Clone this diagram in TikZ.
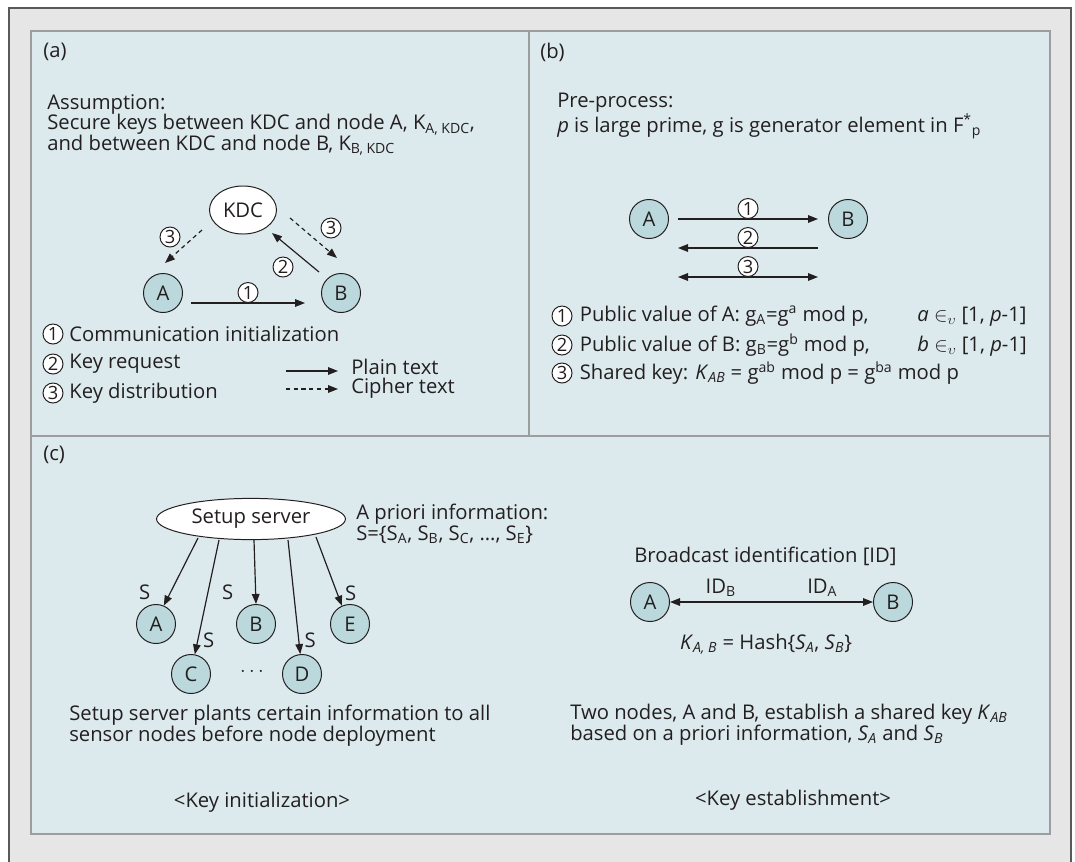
\documentclass[tikz,border=0pt]{standalone}
\usepackage{fontspec}
\setmainfont{Open Sans}
\usetikzlibrary{arrows.meta,positioning,shapes.geometric}
\definecolor{kdOuter}{HTML}{E6E6E7}
\definecolor{kdFrame}{HTML}{58595B}
\definecolor{kdPanel}{HTML}{DCEAEE}
\definecolor{kdEdge}{HTML}{9B9D9F}
\definecolor{kdNode}{HTML}{BBD9DC}
\definecolor{kdInk}{HTML}{231F20}
\newcommand{\isub}[2]{\textit{#1}\textsubscript{\textit{#2}}}

\begin{document}
\begin{tikzpicture}[x=0.025cm, y=-0.025cm,
  font=\fontsize{14.4}{14.8}\selectfont, text=kdInk, >={Triangle[length=2.5mm,width=1.9mm]},
  panel/.style={fill=kdPanel, draw=kdEdge, line width=1.3pt},
  sn/.style={circle, draw=kdInk, fill=kdNode, minimum size=0.975cm, inner sep=0pt, line width=0.7pt},
  srv/.style={ellipse, draw=kdInk, fill=white, inner sep=0pt, line width=0.7pt},
  num/.style={circle, draw=kdInk, fill=white, solid, minimum size=0.5cm, inner sep=0pt, line width=0.7pt,
              font=\fontsize{13}{13}\selectfont},
  plain/.style={->, line width=0.85pt, draw=kdInk},
  cipher/.style={->, line width=0.85pt, draw=kdInk, dash pattern=on 3pt off 2.5pt},
  both/.style={<->, line width=0.85pt, draw=kdInk},
  txt/.style={anchor=west, align=left, inner sep=0pt},
  tag/.style={anchor=west, inner sep=0pt},
]
\useasboundingbox (0,0) rectangle (1075,861);
\clip (0,0) rectangle (1075,861);
% frame and the three panels
\fill[white] (0,0) rectangle (1075,861);
\draw[fill=kdOuter, draw=kdFrame, line width=1.3pt] (9,8) rectangle (1071,900);
\draw[panel] (31,31) rectangle (529,436);
\draw[panel] (529,31) rectangle (1050,436);
\draw[panel] (31,436) rectangle (1050,834);
\node[tag] (ta) at (43,52) {(a)};
\node[tag] (tb) at (540,52) {(b)};
\node[tag] (tc) at (43,455) {(c)};

% (a) KDC
\node[txt] (assume) at (47,125) {Assumption:\\Secure keys between KDC and node A, K\textsubscript{A, KDC},\\and between KDC and node B, K\textsubscript{B, KDC}};
\node[srv, minimum width=1.675cm, minimum height=1.2cm] (kdc) at (243,210) {KDC};
\node[sn] (a) at (163,293) {A};
\node[sn] (b) at (341,293) {B};
\draw[plain] ([shift={(28,10)}]a.center) -- node[num, above=0pt]{1} ([shift={(-36,10)}]b.center);
\draw[plain] ([shift={(-22,-21)}]b.center) -- node[num, shift={(-12.5,14.5)}]{2} ([shift={(29,23)}]kdc.center);
\draw[cipher] ([shift={(-41,20)}]kdc.center) -- node[num, shift={(-13.5,-9.5)}]{3} ([shift={(2,-30)}]a.center);
\draw[cipher] ([shift={(47,8)}]kdc.center) -- node[num, shift={(17.5,-10)}]{3} ([shift={(-4,-35)}]b.center);
% legend
\node[num] (l1) at (53,334) {1};
\node[num] (l2) at (53,364) {2};
\node[num] (l3) at (53,393) {3};
\node[tag, right=4pt of l1] (l1t) {Communication initialization};
\node[tag, right=4pt of l2] (l2t) {Key request};
\node[tag, right=4pt of l3] (l3t) {Key distribution};
\node[txt, font=\fontsize{14.4}{13.2}\selectfont] (ptct) at (351,379) {Plain text\\Cipher text};
\draw[plain] ([shift={(-65,-8)}]ptct.west) -- ([shift={(-13,-8)}]ptct.west);
\draw[cipher] ([shift={(-65,10)}]ptct.west) -- ([shift={(-13,10)}]ptct.west);

% (b) Diffie-Hellman
\node[txt] (pre) at (557,116) {Pre-process:\\\textit{p} is large prime, g is generator element in F\textsuperscript{*}\textsubscript{p}};
\node[sn] (a2) at (649,219) {A};
\node[sn] (b2) at (848,219) {B};
\draw[plain] ([shift={(29,0)}]a2.center) -- node[num, above=0pt]{1} ([shift={(-30,0)}]b2.center);
\draw[plain] ([shift={(-30,29)}]b2.center) -- node[num, above=0pt]{2} ([shift={(29,29)}]a2.center);
\draw[both] ([shift={(29,58)}]a2.center) -- node[num, above=0pt]{3} ([shift={(-30,58)}]b2.center);
\coordinate (rc) at (917,0);
\node[num] (m1) at (562,316) {1};
\node[num] (m2) at (562,345) {2};
\node[num] (m3) at (562,373) {3};
\node[tag, right=5pt of m1] (m1t) {Public value of A: g\textsubscript{A}=g\textsuperscript{a} mod p,};
\node[tag, right=5pt of m2] (m2t) {Public value of B: g\textsubscript{B}=g\textsuperscript{b} mod p,};
\node[tag, right=5pt of m3] (m3t) {Shared key: \isub{K}{AB} = g\textsuperscript{ab} mod p = g\textsuperscript{ba} mod p};
\node[anchor=base west, inner sep=0pt] (m1r) at (rc |- m1t.base) {\textit{a} $\in_{\upsilon}$ [1, \textit{p}-1]};
\node[anchor=base west, inner sep=0pt] (m2r) at (rc |- m2t.base) {\textit{b} $\in_{\upsilon}$ [1, \textit{p}-1]};

% (c) key initialization
\node[srv, minimum width=4.72cm, minimum height=1.03cm] (setup) at (251,519) {Setup server};
\node[txt, font=\fontsize{14.4}{12.2}\selectfont] (prior) at (356,524) {A priori information:\\S=\{S\textsubscript{A}, S\textsubscript{B}, S\textsubscript{C}, \dots, S\textsubscript{E}\}};
\node[sn] (ca) at (156,624) {A};
\node[sn] (cb) at (256,624) {B};
\node[sn] (ce) at (350,624) {E};
\node[sn] (cc) at (191,674) {C};
\node[sn] (cd) at (302,674) {D};
\node (dots) at (252,672) {$\cdots$};
\draw[plain] ([shift={(-53,19)}]setup.center) -- node[pos=0.8, shift={(-26,0)}]{S} (ca.67);
\draw[plain] ([shift={(-32,21)}]setup.center) -- node[pos=0.88, shift={(11,0)}]{S} (cc.79);
\draw[plain] ([shift={(3,21)}]setup.center) -- node[pos=0.81, shift={(-28,0)}]{S} (cb.90);
\draw[plain] ([shift={(37,21)}]setup.center) -- node[pos=0.876, shift={(11.5,0)}]{S} (cd.95);
\draw[plain] ([shift={(65,18)}]setup.center) -- node[pos=0.82, shift={(13.5,0)}]{S} (ce.114);
\node[txt] (plant) at (69,726) {Setup server plants certain information to all\\sensor nodes before node deployment};
\node (kinit) at (262,802) {<Key initialization>};

% (c) key establishment
\node[tag] (bcast) at (634,556) {Broadcast identification [ID]};
\node[sn] (a3) at (650,602) {A};
\node[sn] (b3) at (893,602) {B};
\draw[both] (a3) -- node[pos=0.25, above]{ID\textsubscript{B}} node[pos=0.75, above]{ID\textsubscript{A}} (b3);
\node (hash) at (766,644) {\isub{K}{A, B} = Hash\{\isub{S}{A}, \isub{S}{B}\}};
\node[txt] (two) at (570,725) {Two nodes, A and B, establish a shared key \isub{K}{AB}\\based on a priori information, \isub{S}{A} and \isub{S}{B}};
\node (kest) at (793,800) {<Key establishment>};
\end{tikzpicture}
\end{document}
